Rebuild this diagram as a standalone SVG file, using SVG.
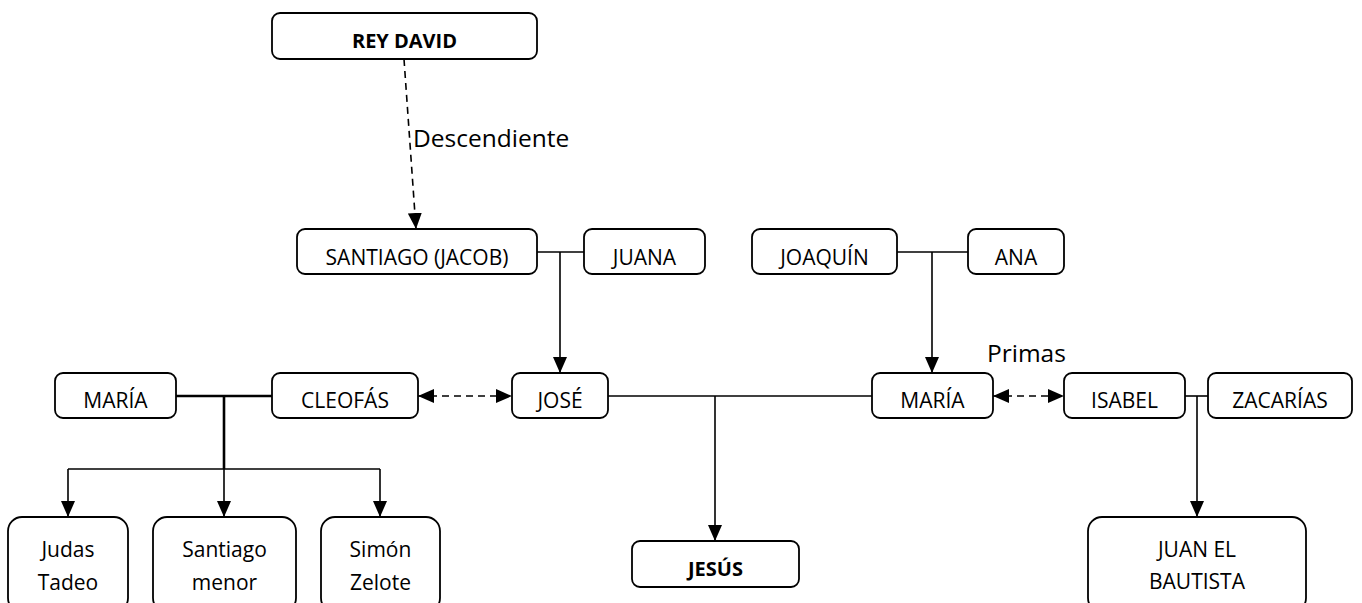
<svg xmlns="http://www.w3.org/2000/svg" width="1362" height="603" viewBox="0 0 1362 603">
<style>
.box{fill:#fff;stroke:#000;stroke-width:1.8}
.t{font-family:"Open Sans","Noto Sans",sans-serif;font-size:21px;fill:#000;text-anchor:middle}
.b{font-weight:bold;font-size:20px}
.lbl{font-family:"Open Sans","Noto Sans",sans-serif;font-size:24.5px;fill:#000}
.ln{fill:none;stroke:#000;stroke-width:1.6}
.thick{stroke-width:2.6}
.dash{stroke-dasharray:7 5}
.arr{marker-end:url(#ah)}
.dbl{marker-end:url(#ah);marker-start:url(#ah)}
</style>
<defs>
<marker id="ah" markerUnits="userSpaceOnUse" markerWidth="16" markerHeight="14" refX="16" refY="7" orient="auto-start-reverse" viewBox="0 0 16 14">
<path d="M0,0 L16,7 L0,14 z" fill="#000"/>
</marker>
</defs>
<rect width="1362" height="603" fill="#fff"/>
<g id="connectors">
<path class="ln dash arr" d="M404,59 L416,229"/>
<path class="ln" d="M537,252 L584,252"/>
<path class="ln arr" d="M560,252 L560,373"/>
<path class="ln" d="M897,252 L968,252"/>
<path class="ln arr" d="M932,252 L932,373"/>
<path class="ln thick" d="M176,396 L272,396"/>
<path class="ln thick" d="M224,396 L224,469"/>
<path class="ln" d="M68,469 L380,469"/>
<path class="ln arr" d="M68,469 L68,517"/>
<path class="ln arr" d="M224,469 L224,517"/>
<path class="ln arr" d="M380,469 L380,517"/>
<path class="ln dash dbl" d="M418,396 L512,396"/>
<path class="ln" d="M608,396 L872,396"/>
<path class="ln arr" d="M715,396 L715,541"/>
<path class="ln dash dbl" d="M993,396 L1064,396"/>
<path class="ln" d="M1185,396 L1208,396"/>
<path class="ln arr" d="M1197,396 L1197,517"/>
<text class="lbl" x="413" y="147">Descendiente</text>
<text class="lbl" x="987" y="362">Primas</text>
</g>
<g id="rey-david"><rect class="box" x="272" y="13" width="265" height="46" rx="8"/><text class="t b" x="404.5" y="48">REY DAVID</text></g>
<g id="santiago-jacob"><rect class="box" x="297" y="229" width="240" height="45" rx="8"/><text class="t" x="417" y="265">SANTIAGO (JACOB)</text></g>
<g id="juana"><rect class="box" x="584" y="229" width="121" height="45" rx="8"/><text class="t" x="644.5" y="265">JUANA</text></g>
<g id="joaquin"><rect class="box" x="752" y="229" width="145" height="45" rx="8"/><text class="t" x="824.5" y="265">JOAQUÍN</text></g>
<g id="ana"><rect class="box" x="968" y="229" width="96" height="45" rx="8"/><text class="t" x="1016" y="265">ANA</text></g>
<g id="maria-left"><rect class="box" x="55" y="373" width="121" height="45" rx="8"/><text class="t" x="115.5" y="408">MARÍA</text></g>
<g id="cleofas"><rect class="box" x="272" y="373" width="146" height="45" rx="8"/><text class="t" x="345" y="408">CLEOFÁS</text></g>
<g id="jose"><rect class="box" x="512" y="373" width="96" height="45" rx="8"/><text class="t" x="560" y="408">JOSÉ</text></g>
<g id="maria-right"><rect class="box" x="872" y="373" width="121" height="45" rx="8"/><text class="t" x="932.5" y="408">MARÍA</text></g>
<g id="isabel"><rect class="box" x="1064" y="373" width="121" height="45" rx="8"/><text class="t" x="1124.5" y="408">ISABEL</text></g>
<g id="zacarias"><rect class="box" x="1208" y="373" width="144" height="45" rx="8"/><text class="t" x="1280" y="408">ZACARÍAS</text></g>
<g id="judas-tadeo"><rect class="box" x="8" y="517" width="120" height="95" rx="14"/><text class="t" x="68" y="557">Judas</text><text class="t" x="68" y="590">Tadeo</text></g>
<g id="santiago-menor"><rect class="box" x="153" y="517" width="143" height="95" rx="14"/><text class="t" x="224.5" y="557">Santiago</text><text class="t" x="224.5" y="590">menor</text></g>
<g id="simon-zelote"><rect class="box" x="321" y="517" width="119" height="95" rx="14"/><text class="t" x="380.5" y="557">Simón</text><text class="t" x="380.5" y="590">Zelote</text></g>
<g id="jesus"><rect class="box" x="632" y="541" width="167" height="46" rx="8"/><text class="t b" x="715.5" y="576">JESÚS</text></g>
<g id="juan-bautista"><rect class="box" x="1088" y="517" width="218" height="95" rx="14"/><text class="t" x="1197" y="557">JUAN EL</text><text class="t" x="1197" y="589">BAUTISTA</text></g>
</svg>
